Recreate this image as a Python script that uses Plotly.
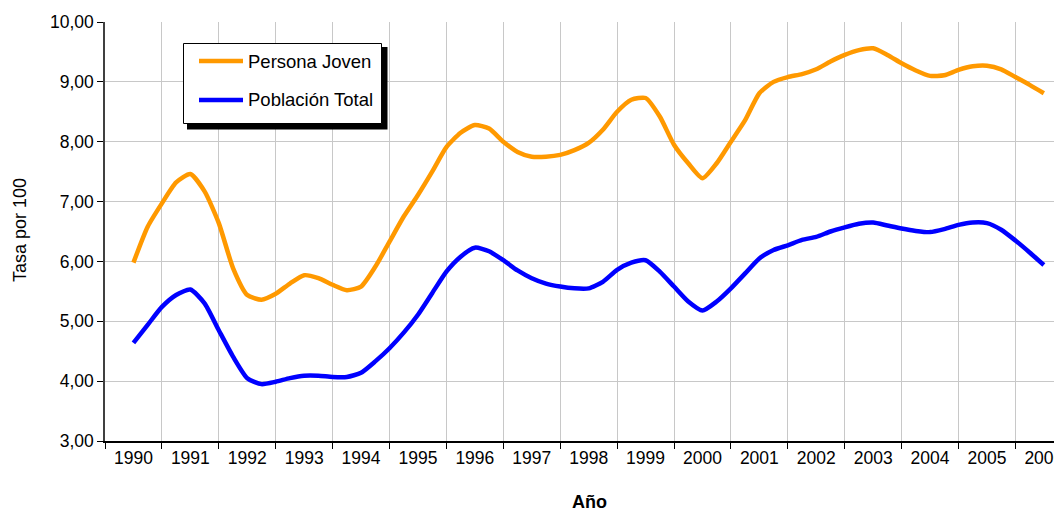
import plotly.graph_objects as go

years = [1990.00, 1990.25, 1990.50, 1990.75, 1991.00, 1991.25, 1991.50, 1991.75,
         1992.00, 1992.25, 1992.50, 1992.75, 1993.00, 1993.25, 1993.50, 1993.75,
         1994.00, 1994.25, 1994.50, 1994.75, 1995.00, 1995.25, 1995.50, 1995.75,
         1996.00, 1996.25, 1996.50, 1996.75, 1997.00, 1997.25, 1997.50, 1997.75,
         1998.00, 1998.25, 1998.50, 1998.75, 1999.00, 1999.25, 1999.50, 1999.75,
         2000.00, 2000.25, 2000.50, 2000.75, 2001.00, 2001.25, 2001.50, 2001.75,
         2002.00, 2002.25, 2002.50, 2002.75, 2003.00, 2003.25, 2003.50, 2003.75,
         2004.00, 2004.25, 2004.50, 2004.75, 2005.00, 2005.25, 2005.50, 2005.75,
         2006.00]

persona_joven = [5.98, 6.58, 6.97, 7.32, 7.46, 7.17, 6.64, 5.89,
                 5.44, 5.36, 5.46, 5.63, 5.77, 5.72, 5.61, 5.52,
                 5.58, 5.91, 6.33, 6.75, 7.11, 7.50, 7.91, 8.15,
                 8.28, 8.22, 8.00, 7.83, 7.75, 7.75, 7.78, 7.86,
                 7.98, 8.20, 8.50, 8.70, 8.73, 8.42, 7.95, 7.64,
                 7.39, 7.64, 8.00, 8.36, 8.81, 9.00, 9.08, 9.13,
                 9.21, 9.34, 9.45, 9.53, 9.56, 9.45, 9.31, 9.19,
                 9.10, 9.11, 9.20, 9.26, 9.27, 9.21, 9.08, 8.95,
                 8.81]

poblacion_total = [4.64, 4.94, 5.24, 5.44, 5.53, 5.30, 4.85, 4.41,
                   4.05, 3.95, 3.99, 4.05, 4.09, 4.09, 4.07, 4.07,
                   4.14, 4.33, 4.55, 4.81, 5.11, 5.47, 5.83, 6.08,
                   6.23, 6.17, 6.02, 5.85, 5.72, 5.63, 5.58, 5.55,
                   5.55, 5.66, 5.86, 5.98, 6.02, 5.83, 5.58, 5.33,
                   5.18, 5.33, 5.55, 5.80, 6.05, 6.19, 6.27, 6.36,
                   6.41, 6.50, 6.57, 6.63, 6.65, 6.60, 6.55, 6.51,
                   6.49, 6.54, 6.61, 6.65, 6.64, 6.53, 6.35, 6.15,
                   5.94]

series_names = ["Persona Joven", "Población Total"]
series_colors = ["#FF9900", "#0000FF"]

tick_years = list(range(1990, 2007))
tick_labels = [str(y) for y in tick_years]

# The page body adds an 8px offset; lay out in "rendered" pixel coordinates.
OFF = 8
W, H = 1062, 505
L, T, B = 97, 14, 72
plot_w = W - L
plot_h = H - T - B


def px_x(p):
    return (p - OFF - L) / plot_w


def px_y(p):
    return (H - B - (p - OFF)) / plot_h


FONT = "Liberation Sans, Arial, sans-serif"

fig = go.Figure()
for name, vals, col in zip(series_names, [persona_joven, poblacion_total], series_colors):
    fig.add_trace(go.Scatter(x=years, y=vals, name=name, mode="lines",
                             line=dict(color=col, width=4.5, shape="spline", smoothing=0.6),
                             showlegend=False))

# legend box with shadow
fig.add_shape(type="rect", xref="paper", yref="paper",
              x0=px_x(187), x1=px_x(387.5), y0=px_y(129.5), y1=px_y(47),
              fillcolor="black", line=dict(width=0), layer="above")
fig.add_shape(type="rect", xref="paper", yref="paper",
              x0=px_x(183.5), x1=px_x(381.5), y0=px_y(123.5), y1=px_y(43.5),
              fillcolor="white", line=dict(color="black", width=1), layer="above")
for i, (name, col) in enumerate(zip(series_names, series_colors)):
    yy = 61 + 39 * i
    fig.add_shape(type="line", xref="paper", yref="paper",
                  x0=px_x(199), x1=px_x(243), y0=px_y(yy), y1=px_y(yy),
                  line=dict(color=col, width=4.5), layer="above")
    fig.add_annotation(text=name, xref="paper", yref="paper",
                       x=px_x(246), y=px_y(yy), xanchor="left", yanchor="middle",
                       showarrow=False, font=dict(family=FONT, size=18.5, color="black"))

fig.add_annotation(text="Tasa por 100", xref="paper", yref="paper",
                   x=px_x(20), y=px_y(284), xanchor="center", yanchor="bottom",
                   textangle=-90, showarrow=False,
                   font=dict(family=FONT, size=18, color="black"))

fig.add_annotation(text="<b>Año</b>", xref="paper", yref="paper",
                   x=px_x(589), y=px_y(502), xanchor="center", yanchor="middle",
                   showarrow=False, font=dict(family=FONT, size=18, color="black"))

fig.update_layout(
    width=W, height=H,
    margin=dict(l=L, r=0, t=T, b=B, autoexpand=False),
    paper_bgcolor="white", plot_bgcolor="white",
    font=dict(family=FONT, size=17, color="black"),
    separators=",.",
    showlegend=False,
    xaxis=dict(range=[1989.5, 1989.5 + plot_w / 56.9], automargin=False,
               tickmode="array", tickvals=tick_years, ticktext=tick_labels,
               ticklabeloverflow="allow",
               ticks="", showgrid=False, zeroline=False,
               showline=True, linecolor="black", linewidth=1.5,
               minor=dict(tickmode="linear", tick0=1989.5, dtick=1,
                          ticks="outside", ticklen=6, tickcolor="black",
                          showgrid=True, gridcolor="#c8c8c8", gridwidth=1),
               tickfont=dict(family=FONT, size=17.5)),
    yaxis=dict(range=[3, 10], dtick=1, tick0=3, tickformat=".2f", automargin=False,
               ticks="outside", ticklen=6, tickcolor="black",
               showgrid=True, gridcolor="#c8c8c8", gridwidth=1, zeroline=False,
               showline=True, linecolor="#404040", linewidth=1.5,
               tickfont=dict(family=FONT, size=17.5)),
)

fig.write_html("out.html")
